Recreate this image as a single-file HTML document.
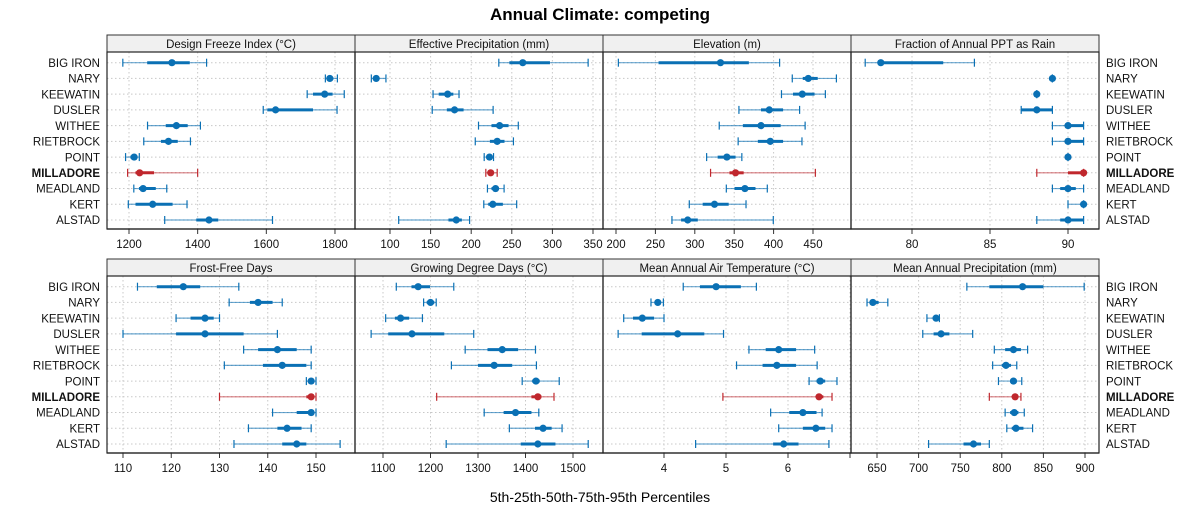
<!DOCTYPE html>
<html><head><meta charset="utf-8">
<style>
html,body{margin:0;padding:0;background:#fff;}
svg{display:block;font-family:"Liberation Sans",sans-serif;}
</style></head>
<body>
<svg id="chart" width="1200" height="525" viewBox="0 0 1200 525">
<text x="600" y="20" text-anchor="middle" font-size="17" font-weight="bold" fill="#000">Annual Climate: competing</text>
<text x="600" y="502" text-anchor="middle" font-size="14" fill="#000">5th-25th-50th-75th-95th Percentiles</text>
</svg>
<script>
const sites = ["BIG IRON","NARY","KEEWATIN","DUSLER","WITHEE","RIETBROCK","POINT","MILLADORE","MEADLAND","KERT","ALSTAD"];
const highlight = "MILLADORE";
const panelTitles = ["Design Freeze Index (°C)","Effective Precipitation (mm)","Elevation (m)","Fraction of Annual PPT as Rain","Frost-Free Days","Growing Degree Days (°C)","Mean Annual Air Temperature (°C)","Mean Annual Precipitation (mm)"];
const dfi = [[1182,1253,1325,1377,1426],[1772,1776,1785,1795,1807],[1719,1736,1770,1793,1827],[1591,1603,1627,1736,1806],[1254,1307,1338,1371,1408],[1243,1293,1315,1342,1379],[1190,1204,1215,1224,1230],[1196,1219,1231,1273,1400],[1214,1229,1241,1278,1310],[1198,1219,1269,1327,1369],[1304,1396,1433,1460,1618]];
const ep = [[234,247,263.5,297,344],[77,80,83,86,95],[153,160,171,178,185],[152,170,179.5,190.6,227],[209,225,235,246,258],[205,223,232,241,252],[216,219,222.5,225,227.5],[218,221,224,226,232],[220,225,230,234,240.5],[215.5,221,226.6,239,256],[110.7,172,181.6,188.5,198]];
const elev = [[203,254,332.6,368.6,407.6],[423.7,437,444,456,479.7],[410,424.6,436.4,452,465.7],[356,384,394.5,412,433],[331,361,384,409,440],[355,380,395.8,412,436],[315,329,340.7,351.7,359.7],[320,344,351.7,362,453],[340,350.4,363.6,377,392],[293,310,325,343,365],[271,282.6,291,303.8,399.6]];
const frac = [[77,77.8,78,82,84],[89,89,89,89,89],[88,88,88,88,88],[87,87,88,89,89],[89,90,90,91,91],[89,90,90,91,91],[90,90,90,90,90],[88,90,91,91,91],[89,89.5,90,90.5,91],[90,91,91,91,91],[88,89.5,90,91,91]];
const ffd = [[113,117,122.5,126,134],[132,136.3,138,141,143],[121,124,127,128.8,130],[110,121,127,135,142],[135,138,142,146,149],[131,139,143,148,149],[148,148.5,149,149.6,150],[130,148,149,149.6,150],[141,146,149,149.6,150],[136,142,144,147,149],[133,143,146,148,155]];
const gdd = [[1128,1160,1174,1199,1249],[1185.5,1192,1200,1208,1212],[1105.6,1125,1137,1155,1183],[1075,1111,1161,1229,1291],[1273,1320,1351,1384.5,1421],[1244,1300,1334,1372,1423],[1393,1414,1422,1430,1471],[1213,1412.5,1426,1433.5,1460],[1313,1354,1379,1412.5,1428],[1366,1420,1437,1455,1477],[1233,1390,1426,1463,1532]];
const maat = [[4.31,4.58,4.84,5.24,5.49],[3.79,3.86,3.90,3.95,3.99],[3.35,3.50,3.65,3.84,4.0],[3.26,3.64,4.22,4.65,4.96],[5.37,5.64,5.85,6.13,6.43],[5.17,5.59,5.82,6.13,6.47],[6.34,6.46,6.52,6.60,6.79],[4.95,6.46,6.50,6.57,6.71],[5.72,6.02,6.24,6.46,6.55],[5.85,6.24,6.45,6.60,6.71],[4.51,5.76,5.93,6.17,6.66]];
const map = [[758,785,825,850,899],[638,641,645,652,663],[710,717,721,723,725],[705,718,727,737,765],[791,804,814,823,831],[789,800,805,811,818],[796,810,814,818,824],[785,814,816,819,823],[804,810,815,820,827],[806,812,817,826,837],[712,754,766,775,785]];
const ticksDfi = [1200,1400,1600,1800];
const ticksEp = [100,150,200,250,300,350];
const ticksElev = [200,250,300,350,400,450];
const ticksFrac = [80,85,90];
const ticksFfd = [110,120,130,140,150];
const ticksGdd = [1100,1200,1300,1400,1500];
const ticksMaat = [4,5,6,7];
const tickLabelsMaat = ["4","5","6",""];
const ticksMap = [650,700,750,800,850,900];

const NS="http://www.w3.org/2000/svg";
const svg=document.getElementById('chart');
function mk(tag,attrs,parent){const e=document.createElementNS(NS,tag);for(const k in attrs)e.setAttribute(k,attrs[k]);(parent||svg).appendChild(e);return e;}

const panels=[
 {title:panelTitles[0],data:dfi,ticks:ticksDfi,labels:null,col:0,row:0,v0:1200,p0:129,k:0.3433},
 {title:panelTitles[1],data:ep,ticks:ticksEp,labels:null,col:1,row:0,v0:100,p0:390,k:0.812},
 {title:panelTitles[2],data:elev,ticks:ticksElev,labels:null,col:2,row:0,v0:200,p0:616,k:0.788},
 {title:panelTitles[3],data:frac,ticks:ticksFrac,labels:null,col:3,row:0,v0:80,p0:912,k:15.6},
 {title:panelTitles[4],data:ffd,ticks:ticksFfd,labels:null,col:0,row:1,v0:110,p0:123,k:4.825},
 {title:panelTitles[5],data:gdd,ticks:ticksGdd,labels:null,col:1,row:1,v0:1100,p0:383,k:0.475},
 {title:panelTitles[6],data:maat,ticks:ticksMaat,labels:tickLabelsMaat,col:2,row:1,v0:4,p0:664,k:62},
 {title:panelTitles[7],data:map,ticks:ticksMap,labels:null,col:3,row:1,v0:650,p0:877,k:0.832}
];
const colX=[107,355,603,851], PW=248;
const rowStrip=[35,259], STRIP=17, PH=177;
const BLUE="#0a70b4", RED="#c0272d";

panels.forEach((p,pi)=>{
  const x0=colX[p.col], sy=rowStrip[p.row], py=sy+STRIP, yb=py+PH;
  const sx=v=>p.p0+(v-p.v0)*p.k;
  const ry=i=>py+10.7+i*15.73;
  const g=mk('g',{});
  
  
  const st=mk('rect',{x:x0,y:sy,width:PW,height:STRIP,fill:'#f0f0f0',stroke:'#333','stroke-width':1},g);
  
  
  const stt=mk('text',{x:x0+PW/2,y:sy+13,'text-anchor':'middle','font-size':11.5,fill:'#111'},g);
  stt.textContent=p.title;
  
  
  p.ticks.forEach(t=>{const x=sx(t); if(x>x0&&x<x0+PW){const gl=mk('line',{x1:x,x2:x,y1:py,y2:yb,stroke:'#c8c8c8','stroke-dasharray':'1.5,2.5'},g);}});
  sites.forEach((s,i)=>{const hl=mk('line',{x1:x0,x2:x0+PW,y1:ry(i),y2:ry(i),stroke:'#c8c8c8','stroke-dasharray':'1.5,2.5'},g);});
  p.data.forEach((d,i)=>{
    const c=sites[i]===highlight?RED:BLUE; const y=ry(i);
    const m=mk('g',{},g);
    
    
    mk('line',{x1:sx(d[0]),x2:sx(d[4]),y1:y,y2:y,stroke:c,'stroke-width':1.2,'stroke-opacity':0.6},m);
    mk('line',{x1:sx(d[0]),x2:sx(d[0]),y1:y-4,y2:y+4,stroke:c,'stroke-width':1.2},m);
    mk('line',{x1:sx(d[4]),x2:sx(d[4]),y1:y-4,y2:y+4,stroke:c,'stroke-width':1.2},m);
    mk('line',{x1:sx(d[1]),x2:sx(d[3]),y1:y,y2:y,stroke:c,'stroke-width':3},m);
    mk('circle',{cx:sx(d[2]),cy:y,r:3.6,fill:c},m);
  });
  const fr=mk('rect',{x:x0,y:py,width:PW,height:PH,fill:'none',stroke:'#222','stroke-width':1.2},g);
  
  
  p.ticks.forEach((t,ti)=>{const x=sx(t);
    mk('line',{x1:x,x2:x,y1:yb,y2:yb+5,stroke:'#333'},g);
    const lb=mk('text',{x:x,y:yb+19,'text-anchor':'middle','font-size':11.5,fill:'#111'},g);
    lb.textContent=p.labels?p.labels[ti]:String(t);
    
    
  });
});
[229,453].forEach(y=>{const l=mk('line',{x1:107,x2:1099,y1:y,y2:y,stroke:'#222','stroke-width':1.2});});
[52,276].forEach(py=>{
  sites.forEach((s,i)=>{
    const y=py+10.7+i*15.73+4.2;
    const b=s===highlight?'bold':'normal';
    const l=mk('text',{x:100,y:y,'text-anchor':'end','font-size':11.5,'font-weight':b,fill:'#111'});
    l.textContent=s;
    
    
    const r=mk('text',{x:1106,y:y,'text-anchor':'start','font-size':11.5,'font-weight':b,fill:'#111'});
    r.textContent=s;
    
    
  });
});
</script>
</body></html>
